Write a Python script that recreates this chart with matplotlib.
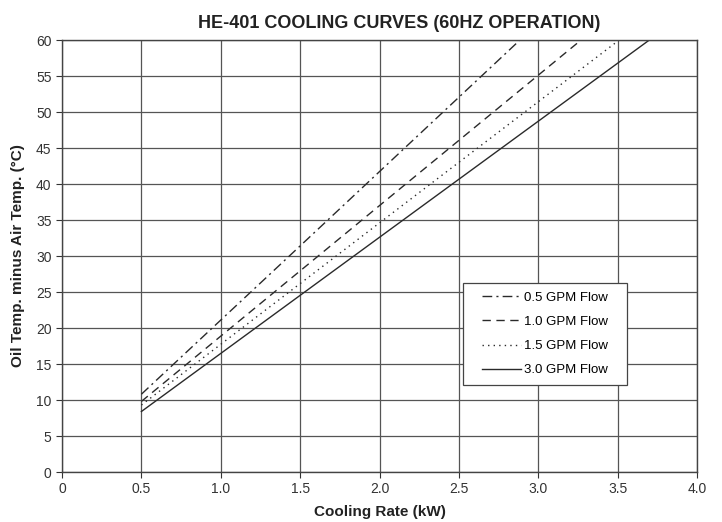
import matplotlib
matplotlib.use("Agg")
import matplotlib.pyplot as plt
from matplotlib.patches import Rectangle

plt.rcParams['font.family'] = ['Liberation Sans', 'DejaVu Sans']

# cooling curves
x_05 = [0.5, 1.5, 2.885]
y_05 = [10.8, 31.4, 60.0]
x_10 = [0.5, 2.0, 3.27]
y_10 = [9.8, 37.0, 60.0]
x_15 = [0.5, 2.0, 3.51]
y_15 = [9.3, 34.6, 60.0]
x_30 = [0.5, 2.0, 3.70]
y_30 = [8.4, 32.6, 60.0]

labels = ["0.5 GPM Flow", "1.0 GPM Flow", "1.5 GPM Flow", "3.0 GPM Flow"]
styles = [(0, (7, 3, 1.5, 3)), (0, (6, 4)), (0, (1, 3)), '-']

fig = plt.figure(figsize=(7.22, 5.22), dpi=100)
ax = fig.add_axes([62/722, 1-472/522, 635/722, 432/522])

for xs, ys, lab, ls in zip([x_05, x_10, x_15, x_30], [y_05, y_10, y_15, y_30], labels, styles):
    ax.plot(xs, ys, linestyle=ls, color='#2a2a2a', lw=1.0, label=lab)

ax.set_xlim(0, 4.0)
ax.set_ylim(0, 60)
ax.set_xticks([0, 0.5, 1.0, 1.5, 2.0, 2.5, 3.0, 3.5, 4.0])
ax.set_xticklabels(['0', '0.5', '1.0', '1.5', '2.0', '2.5', '3.0', '3.5', '4.0'])
ax.set_yticks(range(0, 61, 5))
ax.grid(True, color='#555555', lw=0.9)
ax.set_axisbelow(True)
for s in ax.spines.values():
    s.set_color('#444444')
    s.set_linewidth(1.0)
ax.tick_params(colors='#333333', labelsize=10, length=4, direction='out')

ax.set_title("HE-401 COOLING CURVES (60HZ OPERATION)", fontsize=13, fontweight='bold',
             pad=9, color='#222222', x=0.531)
ax.set_xlabel("Cooling Rate (kW)", fontsize=11, fontweight='bold', color='#222222', labelpad=6)
ax.set_ylabel("Oil Temp. minus Air Temp. (°C)", fontsize=11, fontweight='bold', color='#222222', labelpad=8)

# legend box drawn separately, entries centred inside it
box = Rectangle((0.6315, 0.2014), 0.2583, 0.236, transform=ax.transAxes,
                facecolor='white', edgecolor='#444444', lw=0.9, zorder=4)
ax.add_patch(box)
leg = ax.legend(loc='center', bbox_to_anchor=(0.7606, 0.3194), frameon=False, fontsize=9.5,
                handlelength=3.0, handletextpad=0.2, labelspacing=0.9, borderaxespad=0)
leg.set_zorder(5)

fig.savefig("out.png", dpi=100)
